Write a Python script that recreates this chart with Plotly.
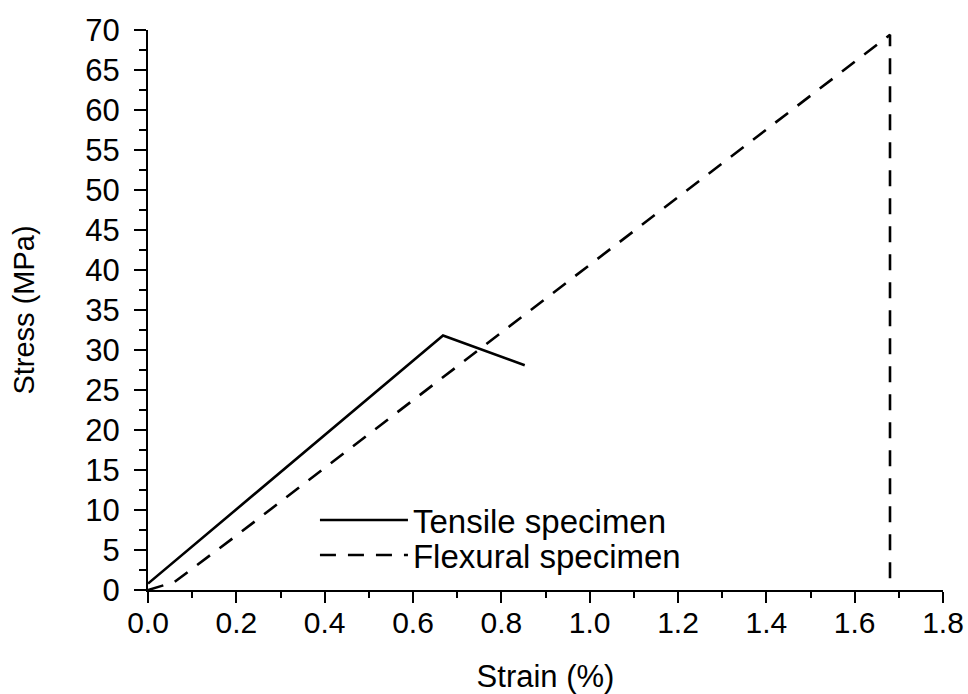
import plotly.graph_objects as go

tensile_strain = [0.0, 0.668, 0.853]
tensile_stress = [0.8, 31.8, 28.1]

flex_strain = [0.0, 0.06, 0.2, 1.68, 1.68]
flex_stress = [0.0, 1.0, 6.8, 69.4, 0.0]

x_ticks = [0.0, 0.2, 0.4, 0.6, 0.8, 1.0, 1.2, 1.4, 1.6, 1.8]
y_ticks = list(range(0, 75, 5))

font = "Liberation Sans, Arial, sans-serif"

fig = go.Figure()
fig.add_trace(go.Scatter(x=tensile_strain, y=tensile_stress, mode="lines",
                         name="Tensile specimen", legend="legend",
                         line=dict(color="black", width=2.6)))
fig.add_trace(go.Scatter(x=flex_strain, y=flex_stress, mode="lines",
                         name="Flexural specimen", legend="legend2",
                         line=dict(color="black", width=2.6, dash="16px,12px")))

leg_common = dict(xanchor="left", yanchor="middle",
                  font=dict(size=33, family=font, color="black"),
                  bgcolor="rgba(0,0,0,0)", itemwidth=88)

fig.update_layout(
    width=968, height=694,
    margin=dict(l=148, r=25, t=30, b=104),
    plot_bgcolor="white", paper_bgcolor="white",
    font=dict(family=font, color="black"),
    showlegend=True,
    legend=dict(x=0.21, y=0.125, **leg_common),
    legend2=dict(x=0.21, y=0.0625, **leg_common),
)
fig.update_xaxes(range=[0, 1.8], tickvals=x_ticks,
                 ticktext=[f"{v:.1f}" for v in x_ticks],
                 showline=True, linecolor="black", linewidth=2,
                 ticks="outside", ticklen=11, tickwidth=2, tickcolor="black",
                 minor=dict(dtick=0.1, ticks="outside", ticklen=6, tickwidth=2, tickcolor="black"),
                 showgrid=False, zeroline=False, automargin=False,
                 ticklabelstandoff=-6,
                 tickfont=dict(size=30, family=font),
                 title=dict(text="Strain (%)", font=dict(size=31, family=font), standoff=30))
fig.update_yaxes(range=[0, 70], tickvals=y_ticks,
                 showline=True, linecolor="black", linewidth=2,
                 ticks="outside", ticklen=12, tickwidth=2, tickcolor="black",
                 minor=dict(dtick=2.5, ticks="outside", ticklen=7, tickwidth=2, tickcolor="black"),
                 showgrid=False, zeroline=False, automargin=False,
                 ticklabelstandoff=8,
                 tickfont=dict(size=31, family=font),
                 title=dict(text="Stress (MPa)", font=dict(size=29, family=font), standoff=42))

fig.write_html("out.html")
